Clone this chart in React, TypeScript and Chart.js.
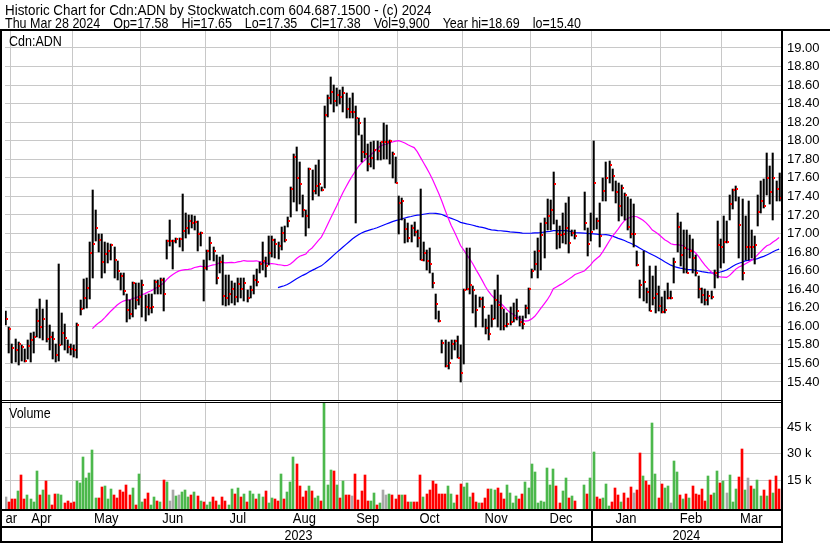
import { useEffect, useRef } from 'react';
import { Chart, registerables } from 'chart.js';

Chart.register(...registerables);

// ---------- data ----------
const monthNames = ['Mar', 'Apr', 'May', 'Jun', 'Jul', 'Aug', 'Sep', 'Oct', 'Nov', 'Dec', 'Jan', 'Feb', 'Mar'];
const monthSlots = [3, 20, 22, 21, 21, 22, 19, 21, 22, 20, 22, 20, 19];
const yearLabels = ['2023', '2024'];
const yearMonthCounts = [10, 3];
const priceTicks = [15.4, 15.6, 15.8, 16.0, 16.2, 16.4, 16.6, 16.8, 17.0, 17.2, 17.4, 17.6, 17.8, 18.0, 18.2, 18.4, 18.6, 18.8, 19.0];
const volumeTicks = [15, 30, 45];

const titleLine = 'Historic Chart for Cdn:ADN by Stockwatch.com 604.687.1500 - (c) 2024';
const quoteParts = ['Thu Mar 28 2024', 'Op=17.58', 'Hi=17.65', 'Lo=17.35', 'Cl=17.38', 'Vol=9,900', 'Year hi=18.69', 'lo=15.40'];
const symbolLabel = 'Cdn:ADN';
const volumeLabel = 'Volume';

const highs: (number | null)[] = [
  16.20, 16.17, 15.99,
  15.81, 15.86, 15.83, 15.80, 15.76, 15.85, 15.93, 15.94, 16.19, 16.29, 16.19, 16.28, 16.01, 15.94, 15.81, 16.67, 16.14, 16.03, 15.85, 15.81,
  15.80, 16.04, 16.28, 16.51, 16.52, 16.91, 17.47, 17.25, 17.00, 16.99, 16.91, 16.90, 16.89, 16.86, 16.70, 16.57, 16.57, 16.35, 16.28, 16.48, 16.47, 16.47,
  16.50, 16.34, 16.35, 16.35, 16.50, 16.50, 16.52, 16.52, 16.93, 17.15, 16.93, 16.95, 16.95, 17.43, 17.22, 17.20, 17.20, 17.19, 17.13, 17.02, 16.71,
  16.82, 16.96, 16.86, 16.77, 16.75, 16.77, 16.55, 16.55, 16.49, 16.47, 16.52, 16.52, 16.52, 16.39, 16.43, 16.55, 16.62, 16.69, 16.91, 16.75, 16.97,
  16.97, 16.94, 16.91, 17.07, 17.08, 17.18, 17.50, 17.86, 17.93, 17.77, 17.42, 17.25, 17.71, 17.69, 17.74, 17.79, 17.50, 18.37, 18.49, 18.69, 18.60, 18.57,
  18.55, 18.58, 18.51, 18.46, 18.51, 18.37, 18.24, 18.06, 18.24, 17.96, 17.99, 18.00, 18.00, 17.99, 18.19, 18.17, 18.01, 17.88, 17.83,
  17.40, 17.38, 17.16, 17.11, 17.09, 17.12, 17.04, 17.48, 16.91, 16.82, 16.84, 16.57, 16.35, 16.16, 15.85, 15.85, 15.83, 15.85, 15.85, 15.90, 15.80,
  16.40, 16.84, 16.84, 16.43, 16.34, 16.32, 16.32, 16.08, 16.12, 16.23, 16.39, 16.55, 16.34, 16.19, 16.14, 16.21, 16.25, 16.29, 16.11, 16.11, 16.23, 16.41,
  16.62, 16.81, 16.95, 17.11, 17.17, 17.37, 17.36, 17.66, 17.15, 17.08, 17.22, 17.33, 17.39, 17.04, 17.04, null, null, 17.45, 17.06, 17.22,
  18.00, 17.17, 17.33, 17.60, 17.77, 17.78, 17.70, 17.57, 17.55, 17.52, 17.44, 17.39, 17.37, 17.32, 16.81, 16.50, 16.81, 16.41, 16.65, 16.54, 16.65, 16.43,
  16.32, 16.38, 16.47, 16.38, 16.74, 17.22, 17.12, 17.04, 17.04, 16.98, 16.94, 16.77, 16.54, 16.41, 16.40, 16.38, 16.38, 16.61, 17.13, 16.94,
  17.19, 17.13, 17.41, 17.48, 17.51, 17.39, 17.37, 17.19, 17.35, 17.04, 16.97, 17.41, 17.57, 17.59, 17.87, 17.73, 17.87, 17.57, 17.65,
];

const lows: (number | null)[] = [
  16.02, 16.01, 15.71,
  15.60, 15.61, 15.58, 15.63, 15.62, 15.65, 15.61, 15.71, 15.89, 15.87, 15.85, 15.83, 15.74, 15.65, 15.62, 15.63, 15.80, 15.74, 15.71, 15.69,
  15.67, 15.66, 16.12, 16.19, 16.20, 16.29, 16.52, 16.92, 16.80, 16.52, 16.57, 16.68, 16.71, 16.52, 16.50, 16.39, 16.34, 16.05, 16.08, 16.10, 16.19, 16.23,
  16.10, 16.06, 16.12, 16.14, 16.35, 16.35, 16.35, 16.16, 16.73, 16.87, 16.62, 16.90, 16.86, 16.81, 16.95, 17.00, 17.06, 17.04, 16.81, 16.87, 16.27,
  16.61, 16.71, 16.70, 16.46, 16.57, 16.23, 16.22, 16.23, 16.25, 16.23, 16.26, 16.31, 16.27, 16.26, 16.30, 16.35, 16.43, 16.57, 16.61, 16.53, 16.66,
  16.75, 16.74, 16.73, 16.82, 16.91, 17.07, 17.18, 17.34, 17.24, 17.32, 17.18, 16.97, 17.06, 17.36, 17.43, 17.40, 17.46, 17.49, 18.26, 18.40, 18.31, 18.37,
  18.40, 18.31, 18.24, 18.24, 18.25, 17.11, 18.06, 17.77, 17.81, 17.67, 17.72, 17.70, 17.79, 17.79, 17.80, 17.80, 17.75, 17.60, 17.54,
  17.00, 17.15, 16.90, 16.91, 16.91, 16.97, 16.86, 16.71, 16.70, 16.61, 16.57, 16.41, 16.08, 16.05, 15.71, 15.56, 15.54, 15.65, 15.74, 15.66, 15.40,
  15.59, 16.39, 16.35, 16.14, 15.99, 16.21, 15.99, 15.92, 15.85, 15.99, 16.08, 15.99, 15.96, 15.96, 15.99, 16.01, 16.05, 16.07, 16.00, 15.97, 16.09, 16.13,
  16.52, 16.61, 16.52, 16.61, 16.74, 17.04, 17.04, 17.10, 16.83, 16.84, 16.90, 16.89, 16.79, 16.97, 16.94, null, null, 17.04, 16.76, 16.92,
  17.04, 17.05, 16.86, 17.35, 17.35, 17.55, 17.46, 17.33, 17.13, 17.19, 17.15, 17.04, 16.95, 16.86, 16.65, 16.31, 16.27, 16.25, 16.16, 16.23, 16.14, 16.16,
  16.14, 16.14, 16.29, 16.29, 16.47, 16.80, 16.65, 16.58, 16.57, 16.74, 16.58, 16.54, 16.31, 16.25, 16.23, 16.23, 16.29, 16.41, 16.52, 16.63,
  16.68, 16.90, 17.15, 17.26, 17.35, 16.74, 16.50, 16.71, 16.72, 16.74, 16.67, 17.08, 17.22, 17.28, 17.42, 17.32, 17.15, 17.35, 17.35,
];

const closes: (number | null)[] = [
  16.08, 16.08, 15.97,
  15.77, 15.74, 15.81, 15.78, 15.63, 15.79, 15.85, 15.88, 16.06, 15.99, 16.08, 15.86, 15.88, 15.86, 15.69, 15.80, 15.93, 15.87, 15.78, 15.76,
  15.74, 16.01, 16.19, 16.30, 16.41, 16.79, 16.89, 17.06, 16.93, 16.69, 16.78, 16.81, 16.88, 16.72, 16.60, 16.54, 16.38, 16.18, 16.13, 16.47, 16.28, 16.32,
  16.44, 16.21, 16.20, 16.21, 16.48, 16.43, 16.50, 16.35, 16.92, 16.92, 16.92, 16.94, 16.94, 17.03, 17.06, 17.14, 17.11, 17.12, 17.00, 17.01, 16.63,
  16.81, 16.90, 16.81, 16.52, 16.69, 16.33, 16.31, 16.35, 16.40, 16.32, 16.46, 16.40, 16.47, 16.31, 16.39, 16.50, 16.48, 16.67, 16.70, 16.65, 16.79,
  16.93, 16.89, 16.87, 17.01, 16.93, 17.14, 17.48, 17.82, 17.60, 17.53, 17.25, 17.19, 17.70, 17.46, 17.51, 17.53, 17.47, 18.28, 18.46, 18.53, 18.43, 18.49,
  18.47, 18.52, 18.34, 18.31, 18.31, 18.24, 18.19, 17.88, 17.86, 17.75, 17.81, 17.90, 17.89, 17.99, 17.99, 17.99, 18.00, 17.86, 17.54,
  17.33, 17.35, 17.05, 16.95, 17.06, 17.02, 16.95, 16.71, 16.79, 16.70, 16.67, 16.47, 16.24, 16.06, 15.82, 15.57, 15.60, 15.81, 15.84, 15.66, 15.50,
  16.39, 16.40, 16.44, 16.39, 16.18, 16.29, 16.21, 15.98, 15.92, 16.08, 16.28, 16.23, 16.20, 16.00, 16.02, 16.05, 16.09, 16.17, 16.05, 16.03, 16.20, 16.40,
  16.60, 16.67, 16.81, 16.98, 17.11, 17.19, 17.25, 17.53, 16.99, 16.98, 16.99, 17.06, 16.90, 17.01, 16.97, null, null, 17.11, 16.89, 17.02,
  17.54, 17.13, 16.97, 17.46, 17.60, 17.74, 17.62, 17.45, 17.30, 17.49, 17.42, 17.07, 17.00, 17.00, 16.66, 16.45, 16.48, 16.37, 16.17, 16.30, 16.35, 16.22,
  16.15, 16.18, 16.30, 16.30, 16.69, 17.07, 16.77, 16.84, 16.58, 16.81, 16.74, 16.58, 16.40, 16.34, 16.28, 16.33, 16.32, 16.57, 16.88, 16.86,
  16.91, 16.91, 17.32, 17.47, 17.48, 17.09, 16.58, 16.86, 16.86, 16.85, 16.88, 17.23, 17.35, 17.30, 17.60, 17.45, 17.60, 17.48, 17.38,
];

// volume in thousands of shares
const volumes: (number | null)[] = [
  5.0, 5.4, 2.5,
  4.0, 4.0, 8.6, 17.8, 4.0, 6.3, 4.0, 2.8, 20.2, 6.3, 9.2, 14.4, 6.3, 1.1, 6.9, 6.9, 6.3, 1.7, 3.4, 1.7,
  2.3, 14.4, 13.2, 28.2, 16.1, 19.0, 32.3, 4.6, 4.6, 10.9, 11.5, 4.0, 9.8, 6.3, 5.0, 9.2, 8.0, 12.1, 6.3, 10.3, 1.1, 18.4,
  2.3, 4.0, 7.5, 0.6, 5.2, 3.4, 2.8, 15.0, 13.8, 3.4, 9.2, 5.7, 6.3, 8.0, 9.2, 5.2, 6.3, 8.0, 5.7, 3.4, 2.3,
  1.1, 2.3, 5.2, 3.4, 1.1, 5.2, 3.4, 1.1, 9.8, 6.9, 10.3, 5.2, 6.9, 2.8, 8.6, 6.9, 4.0, 6.9, 5.2, 8.6, 1.7,
  5.0, 4.0, 3.0, 18.3, 4.4, 8.0, 14.0, 28.3, 24.0, 11.5, 5.2, 9.0, 11.5, 9.0, 5.0, 6.0, 3.0, 58.8, 12.0, 21.0, 20.0, 12.0,
  5.0, 14.4, 6.3, 6.3, 6.0, 18.5, 3.5, 8.8, 17.9, 3.1, 3.0, 7.7, 1.0, 2.1, 9.2, 6.3, 7.0, 6.3, 4.4,
  6.3, 6.7, 6.3, 2.3, 2.3, 2.5, 2.5, 17.9, 5.4, 6.9, 9.2, 14.4, 12.7, 7.3, 6.9, 6.9, 11.7, 7.3, 1.7, 6.3, 12.7,
  11.2, 13.3, 5.4, 7.9, 2.5, 1.7, 2.1, 5.0, 9.8, 9.8, 9.2, 10.4, 7.9, 4.4, 12.1, 7.7, 1.7, 6.0, 4.4, 7.1, 13.8, 10.6,
  24.0, 19.8, 2.1, 3.3, 2.5, 22.1, 12.0, 21.3, 11.7, 1.9, 8.6, 16.1, 4.6, 5.7, 3.0, null, null, 12.1, 6.9, 16.1,
  31.1, 5.2, 4.0, 4.6, 12.7, 0.5, 2.3, 10.3, 6.3, 2.8, 7.5, 4.6, 10.9, 7.5, 9.2, 30.5, 17.3, 14.4, 12.1, 47.3, 18.4, 4.6,
  12.7, 10.3, 11.5, 1.7, 25.9, 19.6, 6.3, 4.0, 6.9, 4.6, 11.5, 6.9, 6.3, 9.8, 3.4, 17.3, 6.3, 7.5, 20.2, 13.2,
  14.4, 7.5, 17.8, 2.8, 9.8, 16.7, 32.8, 9.2, 16.1, 11.5, 9.8, 15.2, 5.7, 9.2, 5.7, 15.0, 7.5, 17.3, 9.9,
];

const maShort = 30;
const maLong = 90;

// ---------- styling ----------
const FONT = '"Liberation Sans", Arial, Helvetica, sans-serif';
const GRID = '#c8c8c8';
const UP = '#4cb84c';
const DOWN = '#ff0000';
const FLAT = '#a8a8a8';
const X_MIN = 0.74;
const X_MAX = 251.6;

function sma(vals: (number | null)[], n: number): (number | null)[] {
  const out: (number | null)[] = [];
  const win: number[] = [];
  let sum = 0;
  for (const v of vals) {
    if (v == null) { out.push(null); continue; }
    win.push(v); sum += v;
    if (win.length > n) sum -= win.shift() as number;
    out.push(win.length === n ? sum / n : null);
  }
  return out;
}

function drawText(ctx: CanvasRenderingContext2D, s: string, x: number, y: number, size: number, align: CanvasTextAlign, sy: number) {
  ctx.save();
  ctx.font = `${size}px ${FONT}`;
  ctx.textAlign = align;
  ctx.textBaseline = 'alphabetic';
  ctx.fillStyle = '#000';
  ctx.translate(x, y);
  ctx.scale(1, sy);
  ctx.fillText(s, 0, 0);
  ctx.restore();
}

export default function App() {
  const ref = useRef<HTMLCanvasElement>(null);

  useEffect(() => {
    const canvas = ref.current;
    if (!canvas) return;

    const bounds: number[] = [-0.5];
    monthSlots.forEach((n) => bounds.push(bounds[bounds.length - 1] + n));
    const yearBounds: number[] = [0];
    yearMonthCounts.forEach((n) => yearBounds.push(yearBounds[yearBounds.length - 1] + n));

    const idx = closes.map((_, i) => i);
    const ma1 = sma(closes, maShort);
    const ma2 = sma(closes, maLong);

    let prev: number | null = null;
    const volColors = closes.map((c) => {
      if (c == null) return 'rgba(0,0,0,0)';
      const col = prev == null ? FLAT : c > prev ? UP : c < prev ? DOWN : FLAT;
      prev = c;
      return col;
    });

    const tick = document.createElement('canvas');
    tick.width = 5; tick.height = 2;
    const tctx = tick.getContext('2d');
    if (tctx) { tctx.fillStyle = '#ff0000'; tctx.fillRect(3, 0, 2, 2); }

    const rangeData = idx.filter((i) => highs[i] != null).map((i) => ({ x: i, y: [lows[i] as number, highs[i] as number] }));
    const closeData = idx.filter((i) => closes[i] != null).map((i) => ({ x: i, y: closes[i] as number }));
    const ma1Data = idx.filter((i) => ma1[i] != null).map((i) => ({ x: i, y: ma1[i] as number }));
    const ma2Data = idx.filter((i) => ma2[i] != null).map((i) => ({ x: i, y: ma2[i] as number }));
    const volIdx = idx.filter((i) => volumes[i] != null);
    const volData = volIdx.map((i) => ({ x: i, y: volumes[i] as number }));
    const volCols = volIdx.map((i) => volColors[i]);

    // snap scale-computed positions to the pixel grid so thin marks stay crisp
    const snapPlugin = {
      id: 'snap',
      beforeDatasetsDraw(chart: any) {
        chart.data.datasets.forEach((ds: any, di: number) => {
          const meta = chart.getDatasetMeta(di);
          const kind = ds.snapKind;
          if (!kind) return;
          meta.data.forEach((el: any) => {
            if (kind === 'thin') {
              el.x = Math.floor(el.x) + 0.7;
              el.y = Math.round(el.y);
              el.base = Math.round(el.base);
            } else if (kind === 'wide') {
              el.x = Math.round(el.x);
              el.y = Math.round(el.y);
              el.base = Math.round(el.base);
            } else if (kind === 'point') {
              el.x = Math.floor(el.x) + 0.5;
              el.y = Math.round(el.y);
            }
          });
        });
      },
    };

    const framePlugin = {
      id: 'frame',
      beforeDraw(chart: any) {
        const { ctx, width, height } = chart;
        ctx.save();
        ctx.fillStyle = '#fff';
        ctx.fillRect(0, 0, width, height);
        ctx.restore();
      },
      afterDraw(chart: any) {
        const { ctx, chartArea: a, scales } = chart;
        const xs = scales.x;
        ctx.save();
        ctx.fillStyle = '#000';
        drawText(ctx, titleLine, 5, 15, 13.4, 'left', 1.15);
        ctx.font = `12.5px ${FONT}`;
        let hx = 5;
        for (const p of quoteParts) {
          drawText(ctx, p, hx, 28, 12.5, 'left', 1.2);
          hx += ctx.measureText(p).width + 13;
        }
        drawText(ctx, symbolLabel, 9, 46, 12.5, 'left', 1.2);
        drawText(ctx, volumeLabel, 9, 418, 12.5, 'left', 1.2);

        ctx.fillStyle = '#000';
        ctx.fillRect(0, 29, 830, 2);
        ctx.fillRect(0, 31, 2, 512);
        ctx.fillRect(781, 31, 2, 512);
        ctx.fillStyle = '#fff';
        ctx.fillRect(2, 401, 779, 1);
        ctx.fillStyle = '#000';
        ctx.fillRect(0, 400, 781, 1);
        ctx.fillRect(0, 402, 781, 1);
        ctx.fillRect(0, 509, 783, 2);
        ctx.fillRect(0, 526, 783, 2);
        ctx.fillRect(0, 541, 783, 2);
        const janX = Math.round(xs.getPixelForValue(bounds[10]));
        ctx.fillRect(janX - 1, 510, 2, 32);

        ctx.save();
        ctx.beginPath();
        ctx.rect(a.left, 511, a.right - a.left, 15);
        ctx.clip();
        monthNames.forEach((m, k) => {
          const cx = xs.getPixelForValue((bounds[k] + bounds[k + 1]) / 2);
          drawText(ctx, m, cx, 523, 13, 'center', 1.1);
        });
        ctx.restore();

        yearLabels.forEach((y, k) => {
          const l = Math.max(a.left, xs.getPixelForValue(bounds[yearBounds[k]]));
          const r = Math.min(a.right, xs.getPixelForValue(bounds[yearBounds[k + 1]]));
          drawText(ctx, y, (l + r) / 2, 540, 12.5, 'center', 1.2);
        });
        ctx.restore();
      },
    };

    const chart = new Chart(canvas, {
      type: 'bar',
      data: {
        datasets: [
          {
            type: 'line',
            data: closeData,
            yAxisID: 'y',
            showLine: false,
            pointStyle: tick as any,
            pointRadius: 3,
            order: 0,
            snapKind: 'point',
          } as any,
          {
            type: 'bar',
            data: rangeData,
            yAxisID: 'y',
            backgroundColor: '#000',
            barThickness: 1.4,
            grouped: false,
            borderWidth: 0,
            order: 1,
            snapKind: 'thin',
          } as any,
          {
            type: 'line',
            data: ma1Data,
            yAxisID: 'y',
            borderColor: '#ff00ff',
            borderWidth: 1.2,
            pointRadius: 0,
            tension: 0,
            order: 2,
          } as any,
          {
            type: 'line',
            data: ma2Data,
            yAxisID: 'y',
            borderColor: '#0000ff',
            borderWidth: 1.2,
            pointRadius: 0,
            tension: 0,
            order: 2,
          } as any,
          {
            type: 'bar',
            data: volData,
            yAxisID: 'yv',
            backgroundColor: volCols,
            barThickness: 2,
            grouped: false,
            borderWidth: 0,
            base: -2,
            order: 3,
            snapKind: 'wide',
          } as any,
        ],
      },
      options: {
        responsive: false,
        devicePixelRatio: 1,
        animation: false,
        events: [],
        layout: { padding: { top: 31, left: 2, right: 0, bottom: 0 } },
        plugins: { legend: { display: false }, tooltip: { enabled: false }, title: { display: false } },
        scales: {
          x: {
            type: 'linear',
            min: X_MIN,
            max: X_MAX,
            offset: false,
            afterBuildTicks: (s: any) => { s.ticks = bounds.slice(1, -1).map((v) => ({ value: v })); },
            ticks: { display: false },
            grid: { color: GRID, lineWidth: 1, drawTicks: false, offset: false },
            border: { display: false },
            afterFit: (s: any) => { s.height = 33; },
          },
          y: {
            type: 'linear',
            position: 'right',
            stack: 'panels',
            stackWeight: 370,
            min: 15.195,
            max: 19.183,
            afterBuildTicks: (s: any) => { s.ticks = priceTicks.map((v) => ({ value: v })); },
            ticks: {
              callback: (v: any) => Number(v).toFixed(2),
              font: { size: 13, family: FONT },
              color: '#000',
              padding: 6,
              autoSkip: false,
            },
            grid: { color: GRID, lineWidth: 1, drawTicks: false },
            border: { display: false },
            afterFit: (s: any) => { s.width = 49; },
          },
          yv: {
            type: 'linear',
            position: 'right',
            stack: 'panels',
            stackWeight: 109,
            min: -2,
            max: 60,
            afterBuildTicks: (s: any) => { s.ticks = volumeTicks.map((v) => ({ value: v })); },
            ticks: {
              callback: (v: any) => `${v} k`,
              font: { size: 13, family: FONT },
              color: '#000',
              padding: 6,
              autoSkip: false,
            },
            grid: { color: GRID, lineWidth: 1, drawTicks: false },
            border: { display: false },
            afterFit: (s: any) => { s.width = 49; },
          },
        },
      } as any,
      plugins: [snapPlugin, framePlugin],
    });

    return () => chart.destroy();
  }, []);

  return (
    <div style={{ position: 'absolute', left: 0, top: 0, width: 830, height: 543, background: '#fff' }}>
      <canvas ref={ref} width={830} height={543} style={{ display: 'block', width: 830, height: 543 }} />
    </div>
  );
}
